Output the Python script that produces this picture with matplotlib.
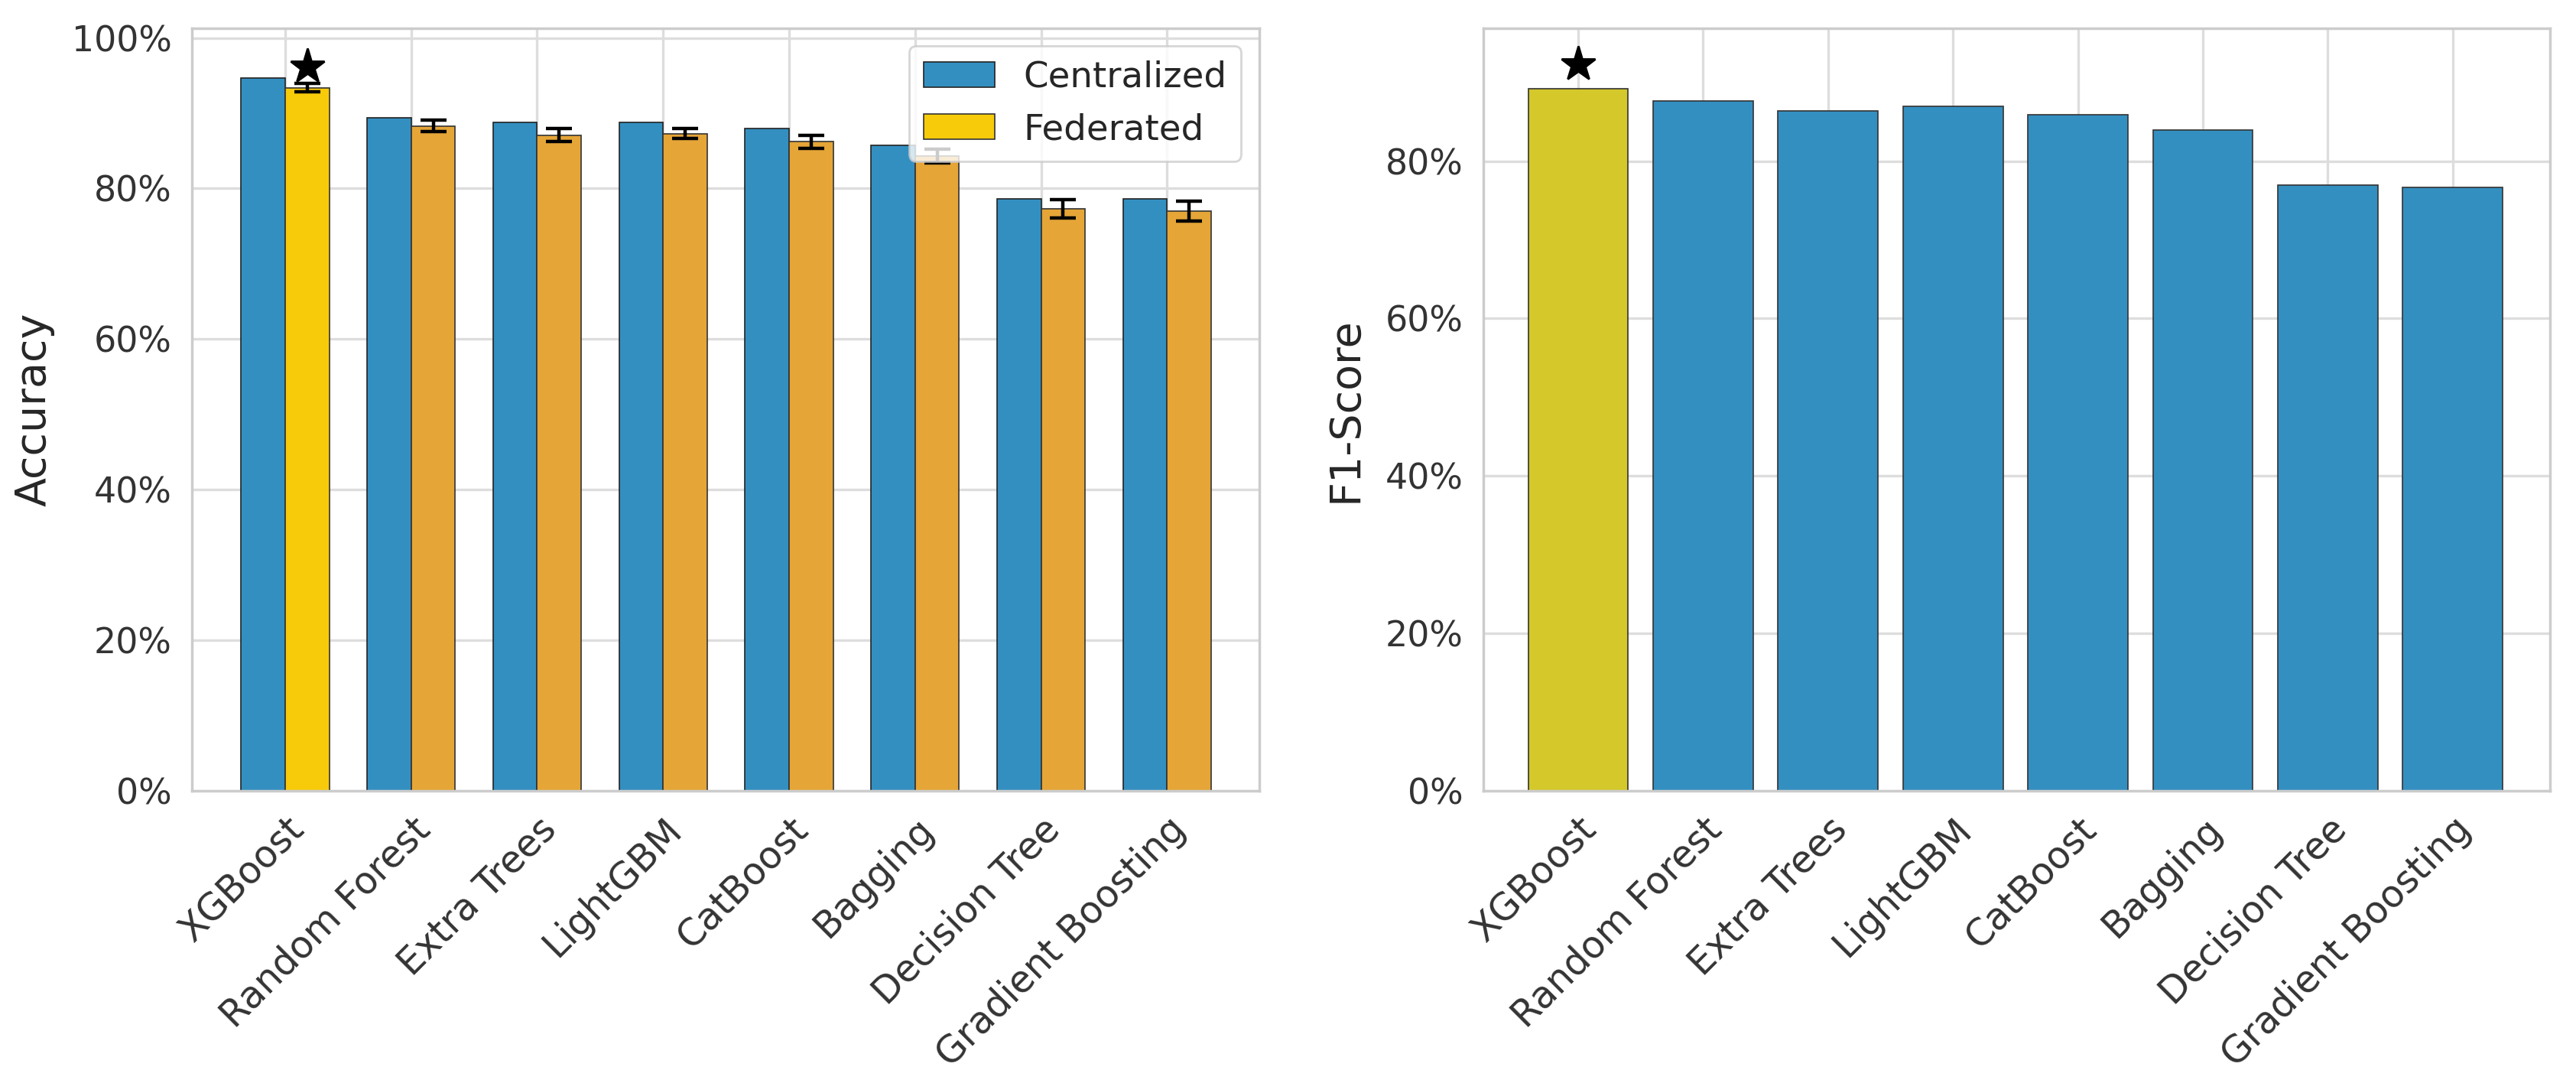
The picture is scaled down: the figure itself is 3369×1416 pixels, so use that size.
import matplotlib.pyplot as plt
import numpy as np
import seaborn as sns
from matplotlib.ticker import PercentFormatter

sns.set_theme(style='whitegrid')
plt.rcParams['font.family'] = ['DejaVu Sans']

models = ['XGBoost', 'Random Forest', 'Extra Trees', 'LightGBM', 'CatBoost',
          'Bagging', 'Decision Tree', 'Gradient Boosting']
acc_central = [0.947, 0.894, 0.888, 0.888, 0.880, 0.857, 0.786, 0.786]
acc_fed = [0.934, 0.883, 0.871, 0.873, 0.862, 0.843, 0.773, 0.770]
acc_fed_err = [0.0055, 0.0075, 0.0085, 0.007, 0.009, 0.009, 0.0125, 0.013]
f1_scores = [0.892, 0.876, 0.864, 0.870, 0.859, 0.840, 0.770, 0.767]

blue = '#348FC1'
orange = '#E5A537'
gold = '#F7CA0A'
olive = '#D4C82A'

fig, (ax1, ax2) = plt.subplots(1, 2, figsize=(16.845, 7.08), dpi=200)
fig.subplots_adjust(left=0.0745, right=0.99, bottom=0.27, top=0.974, wspace=0.21)

x = np.arange(len(models))
w = 0.35

# left: accuracy
ax1.bar(x - w/2, acc_central, w, color=blue, edgecolor='#222222', linewidth=0.6,
        label='Centralized', zorder=2)
fed_colors = [gold] + [orange] * (len(models) - 1)
ax1.bar(x + w/2, acc_fed, w, color=fed_colors, edgecolor='#333333', linewidth=0.6,
        label='Federated', zorder=2)
ax1.errorbar(x + w/2, acc_fed, yerr=acc_fed_err, fmt='none', ecolor='black',
             elinewidth=1.6, capsize=6, capthick=1.6, zorder=3)
best = int(np.argmax(acc_fed))
ax1.plot(x[best] + w/2, acc_fed[best] + acc_fed_err[best] + 0.023, marker='*',
         color='black', markersize=17, zorder=4)
ax1.set_xlim(-0.74, 7.73)
ax1.set_ylim(0, 1.013)
ax1.set_xticks(x)
ax1.set_xticklabels(models, rotation=45, ha='right', rotation_mode='anchor')
ax1.yaxis.set_major_formatter(PercentFormatter(1.0, decimals=0))
ax1.set_ylabel('Accuracy', fontsize=20, labelpad=8)
leg = ax1.legend(loc='upper right', fontsize=16.8, frameon=True)

# right: f1 score
bar_colors = [olive] + [blue] * (len(models) - 1)
ax2.bar(x, f1_scores, 0.8, color=bar_colors, edgecolor='#333333', linewidth=0.6, zorder=2)
best_f1 = int(np.argmax(f1_scores))
ax2.plot(x[best_f1], f1_scores[best_f1] + 0.031, marker='*', color='black',
         markersize=17, zorder=4)
ax2.set_xlim(-0.76, 7.78)
ax2.set_ylim(0, 0.969)
ax2.set_xticks(x)
ax2.set_xticklabels(models, rotation=45, ha='right', rotation_mode='anchor')
ax2.yaxis.set_major_formatter(PercentFormatter(1.0, decimals=0))
ax2.set_ylabel('F1-Score', fontsize=20, labelpad=9)

for ax in (ax1, ax2):
    ax.tick_params(axis='y', labelsize=16.5, colors='#333333')
    ax.tick_params(axis='x', labelsize=17.5, colors='#333333')
    ax.grid(True, color='#dddddd', linewidth=1.2)
    ax.set_axisbelow(True)
    for s in ax.spines.values():
        s.set_color('#cccccc')

fig.savefig('out.png', dpi=200)
